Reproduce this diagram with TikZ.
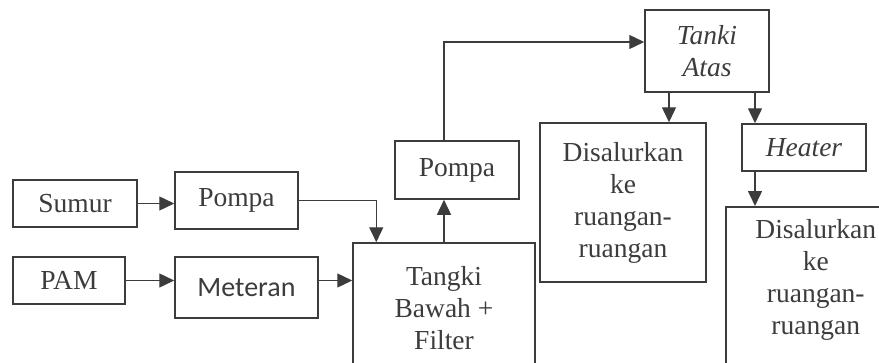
\documentclass[tikz,border=0pt]{standalone}
\usepackage{fontspec}
\setmainfont{Liberation Serif}
\newfontfamily\calibrifont{Carlito}
\usepackage{tikz}
\usetikzlibrary{arrows.meta}
\definecolor{ink}{HTML}{3C3C3C}
\tikzset{
    flow-box/.style = {draw=ink, text=ink, line width=1.5pt, rectangle, inner sep=2pt, align=center, font=\fontsize{27.5}{32}\selectfont},
    flow-arrow/.style = {draw=ink, line width=1.4pt, -{Triangle[length=15pt,width=14pt]}},
}

\begin{document}
\begin{tikzpicture}[x=1pt,y=-1pt]
\useasboundingbox (0,0) rectangle (879,362);
\clip (0,0) rectangle (879,362);
\node [flow-box, minimum width=124, minimum height=47] (sumur) at (75,203.5) {Sumur};
\node [flow-box, minimum width=123, minimum height=57] (pompa-a) at (236.5,200.5) {Pompa};
\node [flow-box, minimum width=112, minimum height=47] (pam) at (69,280.5) {PAM};
\node [flow-box, minimum width=143, minimum height=61, font=\fontsize{28}{32}\calibrifont] (meteran) at (246.5,287.5) {Meteran};
\node [flow-box, minimum width=182, minimum height=130] (tangki) at (444,308) {Tangki\\Bawah +\\Filter};
\node [flow-box, minimum width=124, minimum height=58] (pompa-b) at (457,170) {Pompa};
\node [flow-box, minimum width=124, minimum height=82] (atas) at (707,51) {\itshape Tanki\\\itshape Atas};
\node [flow-box, minimum width=166, minimum height=159] (salur-a) at (623,202.5) {Disalurkan\\ke\\ruangan-\\ruangan};
\node [flow-box, minimum width=124, minimum height=47] (heater) at (804,147.5) {\itshape Heater};
\node [flow-box, minimum width=180, anchor=north west, inner ysep=13pt, text depth=60pt] (salur-b) at (725,206) {Disalurkan\\ke\\ruangan-\\ruangan};

\draw [flow-arrow] (sumur.east) -- (pompa-a.west |- sumur.east);
\draw [flow-arrow] (pompa-a.east) -| ([xshift=24pt]tangki.north west);
\draw [flow-arrow] (pam.east) -- (meteran.west |- pam.east);
\draw [flow-arrow] (meteran.east |- pam.east) -- (tangki.west |- pam.east);
\draw [flow-arrow] (tangki.north) -- (tangki.north |- pompa-b.south);
\draw [flow-arrow] (tangki.north |- pompa-b.north) |- ([yshift=9pt]atas.west);
\draw [flow-arrow] ([xshift=-38pt]atas.south) -- ([xshift=-38pt]atas.south |- salur-a.north);
\draw [flow-arrow] ([xshift=48pt]atas.south) -- ([xshift=48pt]atas.south |- heater.north);
\draw [flow-arrow] ([xshift=-49pt]heater.south) -- ([xshift=-49pt]heater.south |- salur-b.north);
\end{tikzpicture}
\end{document}
